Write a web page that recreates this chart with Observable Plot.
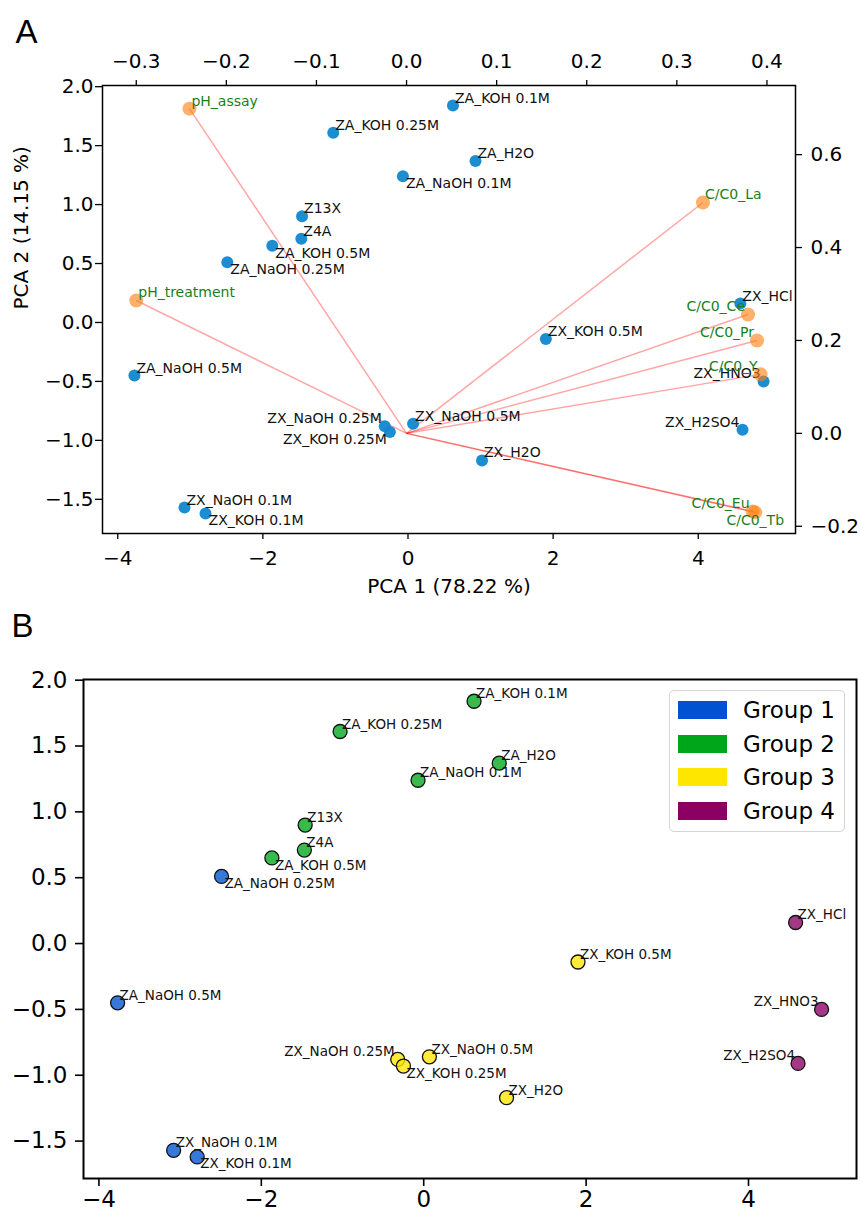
<!DOCTYPE html>
<html>
<head>
<meta charset="utf-8">
<script src="https://cdn.jsdelivr.net/npm/d3@7"></script>
<script src="https://cdn.jsdelivr.net/npm/@observablehq/plot@0.6"></script>
<style>
  body { margin: 0; background: #fff; }
  #root { position: relative; width: 860px; height: 1213px; background: #fff; font-family: "DejaVu Sans", sans-serif; }
  #panelA { position: absolute; left: 0; top: 0; }
  #panelB { position: absolute; left: 0; top: 600px; }
  #legend { position: absolute; left: 669px; top: 690px; width: 176px; height: 142px; box-sizing: border-box;
            border: 1.5px solid #d4d4d4; border-radius: 5px; background: rgba(255,255,255,0.85); }
  .lg-item { position: absolute; left: 0; height: 24px; width: 100%; }
  .lg-sw { position: absolute; left: 8px; top: 3px; width: 49px; height: 18px; }
  .lg-tx { position: absolute; left: 73px; top: -3px; font-size: 23px; line-height: 30px; color: #000; white-space: nowrap; }
</style>
</head>
<body>
<div id="root">
  <div id="panelA"></div>
  <div id="panelB"></div>
  <div id="legend"></div>
</div>
<script>
// ---------- data ----------
const sampleNames = ["ZA_KOH 0.1M","ZA_KOH 0.25M","ZA_H2O","ZA_NaOH 0.1M","Z13X","Z4A","ZA_KOH 0.5M","ZA_NaOH 0.25M",
  "ZA_NaOH 0.5M","ZX_NaOH 0.25M","ZX_KOH 0.25M","ZX_NaOH 0.5M","ZX_NaOH 0.1M","ZX_KOH 0.1M","ZX_H2O","ZX_KOH 0.5M",
  "ZX_HCl","ZX_HNO3","ZX_H2SO4"];
const pc1 = [0.62,-1.03,0.93,-0.07,-1.46,-1.47,-1.87,-2.49,-3.77,-0.32,-0.25,0.07,-3.08,-2.79,1.02,1.90,4.58,4.90,4.61];
const pc2 = [1.84,1.61,1.37,1.24,0.90,0.71,0.65,0.51,-0.45,-0.88,-0.93,-0.86,-1.57,-1.62,-1.17,-0.14,0.16,-0.50,-0.91];
const sampleGroup = [2,2,2,2,2,2,2,1,1,3,3,3,1,1,3,3,4,4,4];

const loadingNames = ["pH_assay","pH_treatment","C/C0_La","C/C0_Ce","C/C0_Pr","C/C0_Y","C/C0_Eu","C/C0_Tb"];
const loadingTop = [-0.241,-0.300,0.329,0.379,0.389,0.393,0.384,0.387];     // top axis units
const loadingRight = [0.699,0.286,0.497,0.256,0.200,0.127,-0.168,-0.170];  // right axis units

const xTicks = [-4,-2,0,2,4];
const yTicks = [-1.5,-1.0,-0.5,0.0,0.5,1.0,1.5,2.0];
const topTicks = [-0.3,-0.2,-0.1,0.0,0.1,0.2,0.3,0.4];
const rightTicks = [-0.2,0.0,0.2,0.4,0.6];

const groupNames = ["Group 1","Group 2","Group 3","Group 4"];
const groupColors = ["#0052d0","#00a61a","#ffe600","#8c0064"];

// ---------- label placement (style, kept apart from the data) ----------
const placeA = {
  "ZA_KOH 0.1M":"ne","ZA_KOH 0.25M":"ne","ZA_H2O":"ne","ZA_NaOH 0.1M":"se","Z13X":"ne","Z4A":"ne","ZA_KOH 0.5M":"se",
  "ZA_NaOH 0.25M":"se","ZA_NaOH 0.5M":"ne","ZX_NaOH 0.25M":"nw","ZX_KOH 0.25M":"sw","ZX_NaOH 0.5M":"ne",
  "ZX_NaOH 0.1M":"ne","ZX_KOH 0.1M":"se","ZX_H2O":"ne","ZX_KOH 0.5M":"ne","ZX_HCl":"ne","ZX_HNO3":"nw","ZX_H2SO4":"nw",
  "pH_assay":"ne","pH_treatment":"ne","C/C0_La":"ne","C/C0_Ce":"nw","C/C0_Pr":"nw","C/C0_Y":"nw","C/C0_Eu":"nw","C/C0_Tb":"s"
};
const placeB = {
  "ZA_KOH 0.1M":"ne","ZA_KOH 0.25M":"ne","ZA_H2O":"ne","ZA_NaOH 0.1M":"ne","Z13X":"ne","Z4A":"ne","ZA_KOH 0.5M":"se",
  "ZA_NaOH 0.25M":"se","ZA_NaOH 0.5M":"ne","ZX_NaOH 0.25M":"nw","ZX_KOH 0.25M":"se","ZX_NaOH 0.5M":"ne",
  "ZX_NaOH 0.1M":"ne","ZX_KOH 0.1M":"se","ZX_H2O":"ne","ZX_KOH 0.5M":"ne","ZX_HCl":"ne","ZX_HNO3":"nw","ZX_H2SO4":"nw"
};
const anchors = {
  ne: {textAnchor:"start", lineAnchor:"bottom", dx:2, dy:-3},
  se: {textAnchor:"start", lineAnchor:"top", dx:3, dy:2},
  nw: {textAnchor:"end", lineAnchor:"bottom", dx:-3, dy:-3},
  sw: {textAnchor:"end", lineAnchor:"top", dx:-3, dy:2},
  s:  {textAnchor:"middle", lineAnchor:"top", dx:0, dy:3}
};

// twin-axis relation (top/right axes vs. PCA score axes)
const topToX = t => -0.02 + t * 12.416;
const xToTop = x => (x + 0.02) / 12.416;
const rightToY = r => -0.9407 + r * 3.9407;
const yToRight = y => (y + 0.9407) / 3.9407;

// ---------- tables ----------
const samples = sampleNames.map((n, i) => ({name: n, pc1: pc1[i], pc2: pc2[i], group: groupNames[sampleGroup[i] - 1],
  pa: placeA[n], pb: placeB[n]}));
const loadings = loadingNames.map((n, i) => ({name: n, x: topToX(loadingTop[i]), y: rightToY(loadingRight[i]),
  x0: topToX(0), y0: rightToY(0), pa: placeA[n]}));

const f1 = d3.format(".1f");
const fi = d3.format("d");

function labels(data, key, x, y, opts) {
  return Object.entries(anchors).map(([k, a]) =>
    Plot.text(data.filter(d => d[key] === k), {x, y, text: "name", ...a, ...opts}));
}

// ---------- panel A ----------
const A = Plot.plot({
  width: 860, height: 600,
  marginLeft: 102, marginRight: 65, marginTop: 85, marginBottom: 67,
  x: {domain: [-4.21, 5.34]},
  y: {domain: [-1.79, 2.01]},
  style: {fontFamily: "DejaVu Sans", fontSize: "20px", color: "black", background: "white", overflow: "visible"},
  marks: [
    Plot.link(loadings, {x1: "x0", y1: "y0", x2: "x", y2: "y", stroke: "red", strokeOpacity: 0.35, strokeWidth: 1.5}),
    Plot.dot(samples, {x: "pc1", y: "pc2", r: 6, fill: "#1187cf", fillOpacity: 0.95}),
    ...labels(samples, "pa", "pc1", "pc2", {fontSize: 14, fill: "#111"}),
    Plot.dot(loadings, {x: "x", y: "y", r: 7, fill: "#ff7f0e", fillOpacity: 0.62}),
    ...labels(loadings, "pa", "x", "y", {fontSize: 14, fill: "#1a7f1a"}),
    Plot.frame({strokeWidth: 1.5}),
    Plot.axisX({ticks: xTicks, tickFormat: fi, tickSize: 6, tickPadding: 11, strokeWidth: 1.3, fontSize: 20, label: null}),
    Plot.axisY({ticks: yTicks, tickFormat: f1, tickSize: 7, tickPadding: 2, strokeWidth: 1.3, fontSize: 20, label: null}),
    Plot.axisX({anchor: "top", ticks: topTicks.map(topToX), tickFormat: d => f1(xToTop(d)), tickSize: 6, tickPadding: 12,
      strokeWidth: 1.3, fontSize: 20, label: null}),
    Plot.axisY({anchor: "right", ticks: rightTicks.map(rightToY), tickFormat: d => f1(yToRight(d)), tickSize: 6, tickPadding: 9,
      strokeWidth: 1.3, fontSize: 20, label: null}),
    Plot.text(["PCA 1 (78.22 %)"], {frameAnchor: "bottom", dy: 59, lineAnchor: "bottom", fontSize: 20}),
    Plot.text(["PCA 2 (14.15 %)"], {frameAnchor: "left", dx: -75, rotate: -90, lineAnchor: "bottom", fontSize: 20}),
    Plot.text(["A"], {frameAnchor: "top-left", dx: -87, dy: -43, textAnchor: "start", lineAnchor: "bottom",
      fontSize: 33, fontFamily: "Liberation Sans"})
  ]
});
document.getElementById("panelA").appendChild(A);

// ---------- panel B ----------
const B = Plot.plot({
  width: 860, height: 613,
  marginLeft: 83, marginRight: 4, marginTop: 79, marginBottom: 35,
  x: {domain: [-4.19, 5.33]},
  y: {domain: [-1.784, 2.005]},
  color: {domain: groupNames, range: groupColors},
  style: {fontFamily: "DejaVu Sans", fontSize: "23px", color: "black", background: "white", overflow: "visible"},
  marks: [
    Plot.dot(samples, {x: "pc1", y: "pc2", r: 7, fill: "group", fillOpacity: 0.78, stroke: "#111", strokeWidth: 1.3}),
    ...labels(samples, "pb", "pc1", "pc2", {fontSize: 13.5, fill: "#111"}),
    Plot.frame({strokeWidth: 2}),
    Plot.axisX({ticks: xTicks, tickFormat: fi, tickSize: 8, tickPadding: 4, strokeWidth: 1.6, fontSize: 23, label: null}),
    Plot.axisY({ticks: yTicks, tickFormat: f1, tickSize: 8, tickPadding: 8, strokeWidth: 1.6, fontSize: 23, label: null}),
    Plot.text(["B"], {frameAnchor: "top-left", dx: -72, dy: -43, textAnchor: "start", lineAnchor: "bottom",
      fontSize: 33, fontFamily: "Liberation Sans"})
  ]
});
document.getElementById("panelB").appendChild(B);

// ---------- legend ----------
const lg = document.getElementById("legend");
groupNames.forEach((g, i) => {
  const item = document.createElement("div");
  item.className = "lg-item";
  item.style.top = (7 + i * 33.6) + "px";
  item.innerHTML = `<div class="lg-sw" style="background:${groupColors[i]}"></div><div class="lg-tx">${g}</div>`;
  lg.appendChild(item);
});
</script>
</body>
</html>
